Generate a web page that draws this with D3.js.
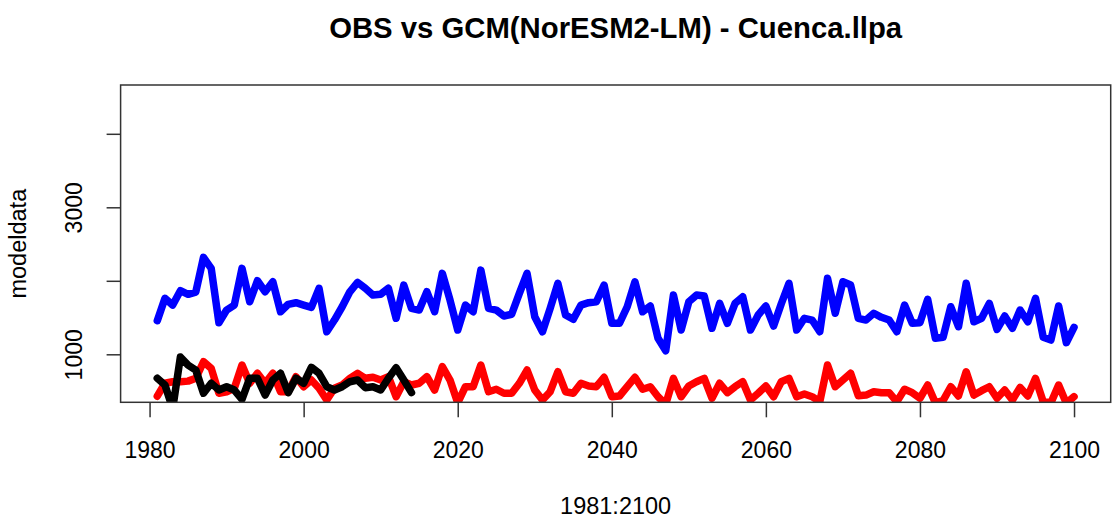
<!DOCTYPE html>
<html>
<head>
<meta charset="utf-8">
<script src="https://cdn.jsdelivr.net/npm/d3@7"></script>
<style>
  html, body { margin: 0; padding: 0; background: #fff; }
  svg { display: block; font-family: "Liberation Sans", Arial, sans-serif; }
</style>
</head>
<body>
<svg id="chart" width="1112" height="519"></svg>
<script>
// ---- data ----
const titleText = "OBS vs GCM(NorESM2-LM) - Cuenca.llpa";
const xLabel = "1981:2100";
const yLabel = "modeldata";
const startYear = 1981;
const endYear = 2100;
const xTicks = [1980, 2000, 2020, 2040, 2060, 2080, 2100];
const yTicks = [1000, 2000, 3000, 4000];
const yTickLabels = ["1000", "", "3000", ""];

// GCM historical+projection (blue)
const gcmBlue = [
  1457, 1762, 1670, 1865, 1816, 1847, 2319, 2170, 1430, 1602,
  1670, 2170, 1715, 2001, 1851, 1987, 1579, 1680, 1702, 1670,
  1639, 1898, 1307, 1466, 1647, 1851, 1979, 1898, 1806, 1816,
  1898, 1490, 1942, 1625, 1602, 1851, 1579, 2102, 1738, 1330,
  1670, 1579, 2146, 1625, 1602, 1521, 1544, 1829, 2102, 1511,
  1307, 1625, 1966, 1534, 1476, 1670, 1702, 1715, 1942, 1422,
  1422, 1647, 1987, 1579, 1657, 1218, 1049, 1806, 1330, 1715,
  1806, 1793, 1354, 1693, 1422, 1693, 1783, 1330, 1534, 1657,
  1385, 1688, 1966, 1330, 1490, 1466, 1307, 2034, 1558, 1987,
  1942, 1490, 1466, 1558, 1503, 1466, 1307, 1670, 1422, 1430,
  1748, 1218, 1231, 1647, 1375, 1966, 1443, 1490, 1693, 1340,
  1521, 1354, 1602, 1443, 1762, 1231, 1194, 1657, 1158, 1366
];
// corrected GCM (red)
const gcmRed = [
  430, 606, 627, 627, 635, 673, 899, 810, 470, 491,
  538, 854, 606, 742, 606, 742, 491, 491, 695, 559,
  650, 538, 378, 538, 582, 673, 742, 673, 687, 650,
  695, 423, 627, 582, 606, 695, 514, 832, 650, 340,
  559, 559, 854, 491, 524, 470, 470, 606, 786, 514,
  378, 491, 763, 491, 470, 606, 569, 559, 687, 423,
  433, 559, 687, 524, 559, 423, 320, 673, 423, 569,
  627, 673, 402, 606, 478, 559, 627, 378, 470, 569,
  423, 627, 673, 423, 460, 423, 355, 854, 559, 650,
  742, 437, 445, 491, 478, 478, 355, 524, 478, 402,
  582, 340, 370, 559, 433, 763, 445, 505, 559, 402,
  514, 378, 550, 433, 673, 355, 340, 582, 335, 423
];
// observations 1981-2014 (black)
const obsBlack = [
  674, 582, 260, 963, 854, 786, 470, 606, 514, 559,
  514, 388, 674, 674, 446, 650, 742, 478, 674, 606,
  823, 742, 559, 514, 559, 627, 650, 546, 559, 514,
  674, 816, 650, 478
];

// ---- layout ----
const svg = d3.select("#chart");
const plot = { left: 120.6, right: 1110.7, top: 85, bottom: 402.3 };

const pad = (endYear - startYear) * 0.04;
const x = d3.scaleLinear()
  .domain([startYear - pad, endYear + pad])
  .range([plot.left, plot.right]);
const y = d3.scaleLinear()
  .domain([347, 4664])
  .range([plot.bottom, plot.top]);

svg.append("defs").append("clipPath").attr("id", "plotclip")
  .append("rect")
  .attr("x", plot.left).attr("y", plot.top)
  .attr("width", plot.right - plot.left)
  .attr("height", plot.bottom - plot.top);

const years = d3.range(startYear, endYear + 1);
const line = d3.line().x(d => x(d[0])).y(d => y(d[1]));

const series = [
  { values: gcmRed, color: "#FF0000" },
  { values: gcmBlue, color: "#0000FF" },
  { values: obsBlack, color: "#000000" }
];

const g = svg.append("g").attr("clip-path", "url(#plotclip)");
series.forEach(s => {
  g.append("path")
    .datum(s.values.map((v, i) => [years[i], v]))
    .attr("d", line)
    .attr("fill", "none")
    .attr("stroke", s.color)
    .attr("stroke-width", 7.5)
    .attr("stroke-linejoin", "round")
    .attr("stroke-linecap", "round");
});

// box
svg.append("rect")
  .attr("x", plot.left).attr("y", plot.top)
  .attr("width", plot.right - plot.left)
  .attr("height", plot.bottom - plot.top)
  .attr("fill", "none").attr("stroke", "#333").attr("stroke-width", 1.5);

// x axis
const xAxis = d3.axisBottom(x).tickValues(xTicks).tickFormat(d3.format("d"))
  .tickSize(15).tickPadding(24);
const gx = svg.append("g").attr("transform", `translate(0,${plot.bottom})`).call(xAxis);
gx.select(".domain").remove();
gx.selectAll(".tick line").attr("stroke", "#333").attr("stroke-width", 1.5);
gx.selectAll(".tick text").attr("font-size", 23).attr("fill", "#000")
  .attr("font-family", "Liberation Sans, Arial, sans-serif");

// y axis
const yAxis = d3.axisLeft(y).tickValues(yTicks)
  .tickFormat((d, i) => yTickLabels[i]).tickSize(14);
const gy = svg.append("g").attr("transform", `translate(${plot.left},0)`).call(yAxis);
gy.select(".domain").remove();
gy.selectAll(".tick line").attr("stroke", "#333").attr("stroke-width", 1.5);
gy.selectAll(".tick text")
  .attr("font-size", 23).attr("fill", "#000")
  .attr("font-family", "Liberation Sans, Arial, sans-serif")
  .attr("x", null).attr("dy", null)
  .attr("text-anchor", "middle")
  .attr("transform", `translate(${82 - plot.left},0) rotate(-90)`);

// titles
svg.append("text")
  .attr("x", (plot.left + plot.right) / 2).attr("y", 38)
  .attr("text-anchor", "middle")
  .attr("font-size", 29.3).attr("font-weight", "bold")
  .text(titleText);

svg.append("text")
  .attr("x", (plot.left + plot.right) / 2).attr("y", 514)
  .attr("text-anchor", "middle")
  .attr("font-size", 23.5)
  .text(xLabel);

svg.append("text")
  .attr("transform", `translate(26,${(plot.top + plot.bottom) / 2}) rotate(-90)`)
  .attr("text-anchor", "middle")
  .attr("font-size", 23.5)
  .text(yLabel);
</script>
</body>
</html>
